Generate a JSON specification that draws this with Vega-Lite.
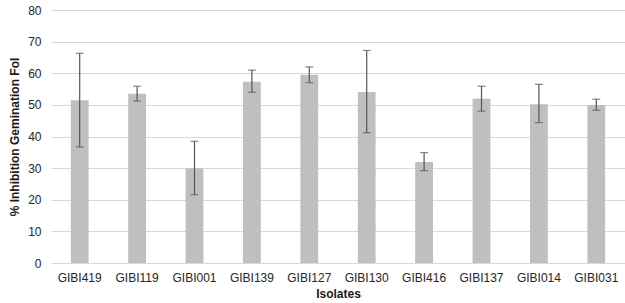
{
  "$schema": "https://vega.github.io/schema/vega-lite/v6.json",
  "width": 574,
  "height": 253,
  "autosize": {"type": "none"},
  "padding": {"left": 51, "top": 10, "right": 0, "bottom": 40},
  "background": "white",
  "config": {
    "view": {"stroke": null},
    "font": "Liberation Sans",
    "axis": {"labelFont": "Liberation Sans", "titleFont": "Liberation Sans", "labelColor": "#262626", "titleColor": "#1a1a1a"},
    "axisY": {"tickCount": 9, "labelFontSize": 12, "titleFontSize": 12, "titleFontWeight": "bold", "ticks": false, "domain": false, "labelPadding": 10, "titlePadding": 6, "gridColor": "#d9d9d9", "gridWidth": 1, "labelOverlap": false}
  },
  "data": {
    "values": [
      {"isolate": "GIBI419", "value": 51.5, "lo": 36.7, "hi": 66.3},
      {"isolate": "GIBI119", "value": 53.5, "lo": 51.2, "hi": 55.9},
      {"isolate": "GIBI001", "value": 30.0, "lo": 21.6, "hi": 38.5},
      {"isolate": "GIBI139", "value": 57.3, "lo": 54.0, "hi": 61.0},
      {"isolate": "GIBI127", "value": 59.5, "lo": 57.0, "hi": 62.0},
      {"isolate": "GIBI130", "value": 54.1, "lo": 41.2, "hi": 67.2},
      {"isolate": "GIBI416", "value": 31.9, "lo": 29.2, "hi": 34.9},
      {"isolate": "GIBI137", "value": 51.9, "lo": 48.0, "hi": 55.9},
      {"isolate": "GIBI014", "value": 50.2, "lo": 44.4, "hi": 56.5},
      {"isolate": "GIBI031", "value": 50.0, "lo": 48.3, "hi": 51.8}
    ]
  },
  "encoding": {
    "x": {
      "field": "isolate", "type": "nominal", "sort": null,
      "scale": {"paddingInner": 0.69, "paddingOuter": 0.345},
      "axis": {"title": "Isolates", "labelAngle": 0, "labelFontSize": 12, "titleFontSize": 12, "titleFontWeight": "bold", "ticks": false, "domain": false, "labelPadding": 9, "titlePadding": 5}
    }
  },
  "layer": [
    {
      "mark": {"type": "bar", "color": "#bfbfbf"},
      "encoding": {
        "y": {
          "field": "value", "type": "quantitative",
          "scale": {"domain": [0, 80]},
          "axis": {"title": "% Inhibition Gemination Fol", "values": {"signal": "[0,10,20,30,40,50,60,70,80]"}}
        }
      }
    },
    {
      "mark": {"type": "rule", "color": "#555555", "strokeWidth": 1.2},
      "encoding": {
        "y": {"field": "lo", "type": "quantitative"},
        "y2": {"field": "hi"}
      }
    },
    {
      "mark": {"type": "tick", "color": "#555555", "size": 8, "thickness": 1.2},
      "encoding": {"y": {"field": "hi", "type": "quantitative"}}
    },
    {
      "mark": {"type": "tick", "color": "#555555", "size": 8, "thickness": 1.2},
      "encoding": {"y": {"field": "lo", "type": "quantitative"}}
    }
  ]
}
